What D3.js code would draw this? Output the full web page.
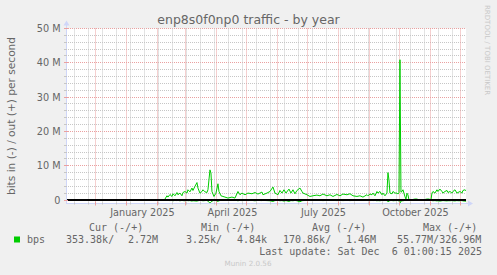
<!DOCTYPE html>
<html>
<head>
<meta charset="utf-8">
<script src="https://cdn.jsdelivr.net/npm/d3@7/dist/d3.min.js"></script>
<style>
  html, body { margin: 0; padding: 0; background: #f0f0f0; }
  svg { display: block; font-family: "DejaVu Sans", sans-serif; }
  .mono { font-family: "DejaVu Sans Mono", monospace; }
</style>
</head>
<body>
<svg id="chart" width="497" height="275"></svg>
<script>
// chart texts
const title = 'enp8s0f0np0 traffic - by year';
const yTitle = 'bits in (-) / out (+) per second';
const lastUpdate = 'Last update: Sat Dec  6 01:00:15 2025';
const munin = 'Munin 2.0.56';
const watermark = 'RRDTOOL / TOBI OETIKER';

// daily averages (Mbit/s); in is drawn negative
const days = [
  '2025-02-08','2025-02-10','2025-02-11','2025-02-13','2025-02-15','2025-02-16','2025-02-18','2025-02-20','2025-02-21','2025-02-23','2025-02-25','2025-02-26','2025-02-28',
  '2025-03-02','2025-03-03','2025-03-05','2025-03-07','2025-03-08','2025-03-10','2025-03-12','2025-03-13','2025-03-15','2025-03-17','2025-03-18','2025-03-20','2025-03-22','2025-03-23','2025-03-25','2025-03-26','2025-03-27','2025-03-29','2025-03-31',
  '2025-04-02','2025-04-03','2025-04-05','2025-04-07','2025-04-09','2025-04-12','2025-04-16','2025-04-19','2025-04-22','2025-04-24','2025-04-26','2025-04-29',
  '2025-05-02','2025-05-06','2025-05-09','2025-05-12','2025-05-16','2025-05-17','2025-05-21','2025-05-24','2025-05-27','2025-05-29',
  '2025-06-01','2025-06-03','2025-06-05','2025-06-07','2025-06-09','2025-06-12','2025-06-14','2025-06-16','2025-06-18','2025-06-20','2025-06-23','2025-06-25','2025-06-26','2025-06-30',
  '2025-07-03','2025-07-06','2025-07-10','2025-07-13','2025-07-16','2025-07-20','2025-07-23','2025-07-26','2025-07-30',
  '2025-08-02','2025-08-05','2025-08-09','2025-08-12','2025-08-15','2025-08-19','2025-08-22','2025-08-25','2025-08-29','2025-08-30',
  '2025-09-01','2025-09-03','2025-09-04','2025-09-06','2025-09-08','2025-09-09','2025-09-11','2025-09-13','2025-09-14','2025-09-16','2025-09-18','2025-09-19','2025-09-20','2025-09-21','2025-09-23','2025-09-24','2025-09-26','2025-09-28','2025-09-29','2025-09-30',
  '2025-10-01','2025-10-02','2025-10-03','2025-10-04','2025-10-05','2025-10-06','2025-10-07','2025-10-08','2025-10-09','2025-10-10','2025-10-12','2025-10-16','2025-10-18','2025-10-20','2025-10-24','2025-10-28','2025-10-30',
  '2025-11-01','2025-11-02','2025-11-03','2025-11-05','2025-11-07','2025-11-08','2025-11-10','2025-11-12','2025-11-13','2025-11-15','2025-11-17','2025-11-18','2025-11-20','2025-11-22','2025-11-23','2025-11-25','2025-11-27','2025-11-28','2025-11-30',
  '2025-12-02','2025-12-03','2025-12-05','2025-12-06'
];
const outM = [
  0.29,1.25,0.87,1.63,1.05,1.84,1.25,2.2,1.55,2.04,1.25,2.2,2.5,
  2.04,3.0,2.4,3.5,2.8,4.0,5.1,3.5,2.0,2.5,3.0,2.4,2.2,3.0,8.8,7.9,2.5,1.05,2.0,
  4.75,2.5,1.25,1.05,0.87,0.58,0.87,0.58,2.5,1.55,2.04,1.55,
  2.04,1.84,2.2,1.75,2.33,1.55,2.04,2.5,3.8,2.04,
  1.55,2.8,2.04,3.0,2.04,3.2,2.04,3.0,1.84,2.8,3.5,2.5,2.04,1.55,
  1.05,1.25,1.45,1.25,1.75,1.25,1.55,1.05,1.63,
  1.25,1.75,1.55,1.84,1.25,1.05,1.25,0.87,1.55,1.25,
  1.75,1.55,2.04,1.25,2.5,2.04,2.5,1.55,2.04,1.25,2.04,8.0,5.9,2.04,1.84,2.5,2.04,2.04,1.75,2.2,
  40.9,2.3,2.5,3.0,2.0,1.0,0.3,2.0,1.5,0.1,0.05,0.3,0.3,0.05,0.05,0.3,0.3,
  0.05,2.04,2.5,2.04,3.0,2.5,3.2,2.5,2.04,2.5,2.8,2.2,2.5,2.04,2.5,3.0,2.04,2.2,2.5,
  2.04,2.8,3.0,2.72
];
const inM = [
  -0.05,-0.1,-0.1,-0.15,-0.1,-0.2,-0.1,-0.15,-0.1,-0.2,-0.1,-0.15,-0.2,
  -0.1,-0.2,-0.15,-0.3,-0.2,-0.25,-0.3,-0.2,-0.1,-0.15,-0.2,-0.15,-0.1,-0.3,-0.9,-0.6,-0.3,-0.1,-0.15,
  -0.4,-0.2,-0.1,-0.1,-0.1,-0.05,-0.1,-0.05,-0.2,-0.1,-0.15,-0.1,
  -0.15,-0.1,-0.2,-0.1,-0.15,-0.1,-0.15,-0.2,-0.4,-0.15,
  -0.1,-0.2,-0.15,-0.3,-0.15,-0.4,-0.15,-0.2,-0.1,-0.2,-0.5,-0.2,-0.15,-0.1,
  -0.1,-0.1,-0.1,-0.1,-0.15,-0.1,-0.1,-0.1,-0.15,
  -0.1,-0.15,-0.1,-0.15,-0.1,-0.1,-0.1,-0.05,-0.1,-0.1,
  -0.15,-0.1,-0.15,-0.1,-0.2,-0.15,-0.2,-0.1,-0.15,-0.1,-0.15,-0.5,-0.3,-0.15,-0.1,-0.2,-0.15,-0.15,-0.1,-0.2,
  -0.9,-0.3,-0.2,-0.2,-0.15,-0.1,-0.05,-0.15,-0.1,-0.02,-0.01,-0.02,-0.02,-0.01,-0.01,-0.02,-0.02,
  -0.01,-0.15,-0.2,-0.15,-0.25,-0.2,-0.3,-0.2,-0.15,-0.2,-0.25,-0.2,-0.2,-0.15,-0.2,-0.25,-0.15,-0.2,-0.2,
  -0.15,-0.25,-0.3,-0.35
];

// axis labels
const yTicks = [0, 10, 20, 30, 40, 50];          // M
const labelMonths = ['2025-01-01', '2025-04-01', '2025-07-01', '2025-10-01'];

// legend
const seriesName = 'bps';
const legendHeads = ['Cur (-/+)', 'Min (-/+)', 'Avg (-/+)', 'Max (-/+)'];
const legendVals = ['353.38k/', '2.72M', '3.25k/', '4.84k', '170.86k/', '1.46M', '55.77M/326.96M'];

const green = '#00cc00';
const fontColor = '#666666';
const axisColor = '#cfd6f8';
const gridColor = '#c6c6c6';
const mgridColor = '#eaa0a0';

const svg = d3.select('#chart');
const parse = d3.timeParse('%Y-%m-%d');

const plot = { left: 66, right: 466, top: 28.5, bottom: 203.5 };
const start = new Date(2024, 10, 1, 1, 0, 15);
const end = new Date(2025, 11, 6, 1, 0, 15);

const x = d3.scaleTime().domain([start, end]).range([plot.left, plot.right]);
const y = d3.scaleLinear().domain([-1e6, 50e6]).range([plot.bottom, plot.top]);
const crisp = v => Math.round(v - 0.5) + 0.5;

// canvas
svg.append('rect')
  .attr('x', plot.left).attr('y', plot.top)
  .attr('width', plot.right - plot.left).attr('height', plot.bottom - plot.top)
  .attr('fill', '#ffffff');

const grid = svg.append('g').attr('stroke-width', 1).attr('stroke-dasharray', '1,1');

// horizontal grid, every 2M minor, 10M major
const minorY = d3.range(0, 50e6 + 1, 2e6).filter(v => v % 10e6 !== 0);
const majorY = yTicks.map(v => v * 1e6);
grid.selectAll('.hmin').data(minorY).enter().append('line')
  .attr('x1', plot.left).attr('x2', plot.right)
  .attr('y1', d => crisp(y(d))).attr('y2', d => crisp(y(d)))
  .attr('stroke', gridColor);
grid.selectAll('.hmaj').data(majorY).enter().append('line')
  .attr('x1', plot.left).attr('x2', plot.right)
  .attr('y1', d => crisp(y(d))).attr('y2', d => crisp(y(d)))
  .attr('stroke', mgridColor);

// vertical grid: every second week minor, months major
const minorX = d3.timeWeek.range(new Date(2024, 10, 10), end, 2);
const majorX = d3.timeMonth.range(start, end);
grid.selectAll('.vmin').data(minorX).enter().append('line')
  .attr('x1', d => crisp(x(d))).attr('x2', d => crisp(x(d)))
  .attr('y1', plot.top).attr('y2', plot.bottom)
  .attr('stroke', gridColor);
grid.selectAll('.vmaj').data(majorX).enter().append('line')
  .attr('x1', d => crisp(x(d))).attr('x2', d => crisp(x(d)))
  .attr('y1', plot.top).attr('y2', plot.bottom)
  .attr('stroke', mgridColor);

// series
const pts = days.map((d, i) => ({ date: parse(d), out: outM[i] * 1e6, inn: inM[i] * 1e6 }));
const lineOut = d3.line().x(d => x(d.date)).y(d => y(d.out));
const lineIn = d3.line().x(d => x(d.date)).y(d => y(d.inn));
svg.append('path').datum(pts).attr('d', lineIn)
  .attr('fill', 'none').attr('stroke', green).attr('stroke-width', 1);
svg.append('path').datum(pts).attr('d', lineOut)
  .attr('fill', 'none').attr('stroke', green).attr('stroke-width', 1);

// zero rule
svg.append('line')
  .attr('x1', plot.left).attr('x2', plot.right)
  .attr('y1', y(0)).attr('y2', y(0))
  .attr('stroke', '#000').attr('stroke-width', 2);

// axis lines and ticks
const ax = svg.append('g').attr('stroke-width', 1);
ax.append('line').attr('x1', plot.left + 0.5).attr('x2', plot.left + 0.5)
  .attr('y1', plot.bottom).attr('y2', plot.top - 5).attr('stroke', axisColor);
ax.append('line').attr('x1', plot.left).attr('x2', plot.right + 4)
  .attr('y1', plot.bottom).attr('y2', plot.bottom).attr('stroke', axisColor);
ax.append('path').attr('d', `M${plot.left - 2.5},${plot.top - 3}L${plot.left + 3.5},${plot.top - 3}L${plot.left + 0.5},${plot.top - 8}Z`)
  .attr('fill', axisColor);
ax.append('path').attr('d', `M${plot.right + 2},${plot.bottom - 3}L${plot.right + 2},${plot.bottom + 3}L${plot.right + 7},${plot.bottom}Z`)
  .attr('fill', axisColor);

ax.selectAll('.ytmin').data(minorY).enter().append('line')
  .attr('x1', plot.left - 2).attr('x2', plot.left + 1)
  .attr('y1', d => crisp(y(d))).attr('y2', d => crisp(y(d))).attr('stroke', gridColor);
ax.selectAll('.ytmaj').data(majorY).enter().append('line')
  .attr('x1', plot.left - 2).attr('x2', plot.left + 2)
  .attr('y1', d => crisp(y(d))).attr('y2', d => crisp(y(d))).attr('stroke', mgridColor);
ax.selectAll('.xtmin').data(minorX).enter().append('line')
  .attr('x1', d => crisp(x(d))).attr('x2', d => crisp(x(d)))
  .attr('y1', plot.bottom - 1).attr('y2', plot.bottom + 1).attr('stroke', gridColor);
ax.selectAll('.xtmaj').data(majorX).enter().append('line')
  .attr('x1', d => crisp(x(d))).attr('x2', d => crisp(x(d)))
  .attr('y1', plot.bottom - 2).attr('y2', plot.bottom + 2).attr('stroke', mgridColor);

// y axis labels
const yAxis = d3.axisLeft(y)
  .tickValues(majorY)
  .tickSize(0).tickPadding(5.5)
  .tickFormat(v => v === 0 ? '0' : (v / 1e6) + ' M');
const gy = svg.append('g').attr('transform', `translate(${plot.left},0)`).call(yAxis);
gy.select('.domain').remove();
gy.selectAll('text').attr('fill', fontColor).style('font-size', '9.7px')
  .style('font-family', '"DejaVu Sans", sans-serif');

// x axis labels, centred half a month after the month start
const fmtMonth = d3.timeFormat('%B %Y');
const labelPos = labelMonths.map(m => d3.timeDay.offset(parse(m), 15));
const xAxis = d3.axisBottom(x)
  .tickValues(labelPos)
  .tickSize(0).tickPadding(5.5)
  .tickFormat(d => fmtMonth(d3.timeMonth.floor(d)));
const gx = svg.append('g').attr('transform', `translate(0,${plot.bottom})`).call(xAxis);
gx.select('.domain').remove();
gx.selectAll('text').attr('fill', fontColor).style('font-size', '9.7px')
  .style('font-family', '"DejaVu Sans", sans-serif');

// titles
svg.append('text').attr('x', 248.5).attr('y', 24).attr('text-anchor', 'middle')
  .attr('fill', fontColor).style('font-size', '12.5px').text(title);
svg.append('text').attr('transform', `translate(15,${(plot.top + plot.bottom) / 2}) rotate(-90)`)
  .attr('text-anchor', 'middle').attr('fill', fontColor).style('font-size', '10.6px').text(yTitle);
svg.append('text').attr('transform', 'translate(485,5) rotate(90)')
  .attr('fill', '#c8c8c8').style('font-size', '7px').text(watermark);

// legend
const headX = [89, 201, 312, 423];
svg.selectAll('.lhead').data(legendHeads).enter().append('text')
  .attr('class', 'mono').attr('x', (d, i) => headX[i]).attr('y', 230.5)
  .attr('fill', fontColor).style('font-size', '10px').attr('xml:space', 'preserve').text(d => d);
svg.append('rect').attr('x', 14).attr('y', 236.5).attr('width', 6).attr('height', 6).attr('fill', green);
svg.append('text').attr('class', 'mono').attr('x', 27).attr('y', 242.5)
  .attr('fill', fontColor).style('font-size', '10px').text(seriesName);
const valX = [66, 128, 186, 237, 283, 346, 397];
svg.selectAll('.lval').data(legendVals).enter().append('text')
  .attr('class', 'mono').attr('x', (d, i) => valX[i]).attr('y', 242.5)
  .attr('fill', fontColor).style('font-size', '10px').text(d => d);
svg.append('text').attr('class', 'mono').attr('x', 482).attr('y', 254.5).attr('text-anchor', 'end')
  .attr('fill', fontColor).style('font-size', '10px').attr('xml:space', 'preserve').text(lastUpdate);
svg.append('text').attr('x', 248).attr('y', 266).attr('text-anchor', 'middle')
  .attr('fill', '#c8c8c8').style('font-size', '7.2px').text(munin);
</script>
</body>
</html>
